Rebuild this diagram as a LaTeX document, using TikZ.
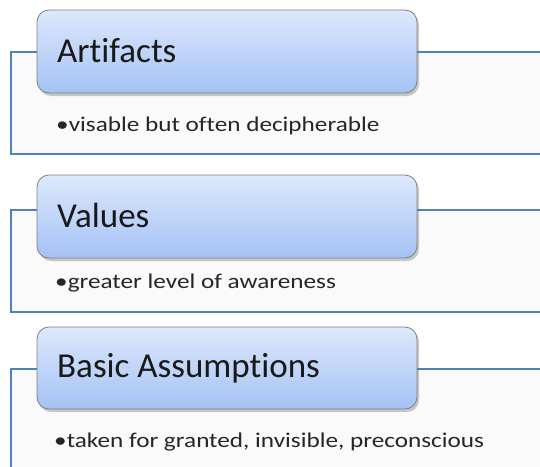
\documentclass[tikz,border=0pt]{standalone}
\usepackage{fontspec}
\setmainfont{Carlito}[Ligatures=NoCommon]
\usetikzlibrary{shadows}
\definecolor{frameblue}{HTML}{4F81BD}
\definecolor{boxtop}{HTML}{DDE8FC}
\definecolor{boxbot}{HTML}{A4C2F4}
\definecolor{boxline}{HTML}{7F7F7F}
\newcommand{\widetext}[1]{\scalebox{1.2}[1]{#1}}
\begin{document}
\begin{tikzpicture}[x=1pt,y=-1pt,
  framefill/.style={fill=black!2, draw=none},
  frameline/.style={draw=frameblue, line width=1.8pt},
  headbox/.style={draw=boxline, line width=0.8pt, rounded corners=12pt,
    top color=boxtop, bottom color=boxbot,
    drop shadow={shadow xshift=2pt, shadow yshift=-3pt, opacity=0.35, fill=black!60}},
  titletext/.style={anchor=base west, inner sep=0pt, font=\fontsize{35}{38}\selectfont, text=black!90},
  bullettext/.style={anchor=base west, inner sep=0pt, font=\fontsize{21}{25}\selectfont, text=black!85}]
\useasboundingbox (0,0) rectangle (540,466);
% frame 1
\fill[framefill] (11,52) rectangle (540,154);
\draw[frameline] (540,52) -- (11,52) -- (11,154) -- (540,154);
\path[headbox] (37,10) rectangle (417,93);
\node[titletext] (t1) at (57,62) {Artifacts};
\node[bullettext] (b1) at (56,131) {\widetext{•visable but often decipherable}};
% frame 2
\fill[framefill] (11,210) rectangle (540,312);
\draw[frameline] (540,210) -- (11,210) -- (11,312) -- (540,312);
\path[headbox] (37,175) rectangle (417,258);
\node[titletext] (t2) at (57,227) {Values};
\node[bullettext] (b2) at (55,288) {\widetext{•greater level of awareness}};
% frame 3
\fill[framefill] (11,369) rectangle (540,470);
\draw[frameline] (540,369) -- (11,369) -- (11,470);
\path[headbox] (37,327) rectangle (417,409);
\node[titletext] (t3) at (57,377) {Basic Assumptions};
\node[bullettext] (b3) at (54,447) {\widetext{•taken for granted, invisible, preconscious}};
\end{tikzpicture}
\end{document}
